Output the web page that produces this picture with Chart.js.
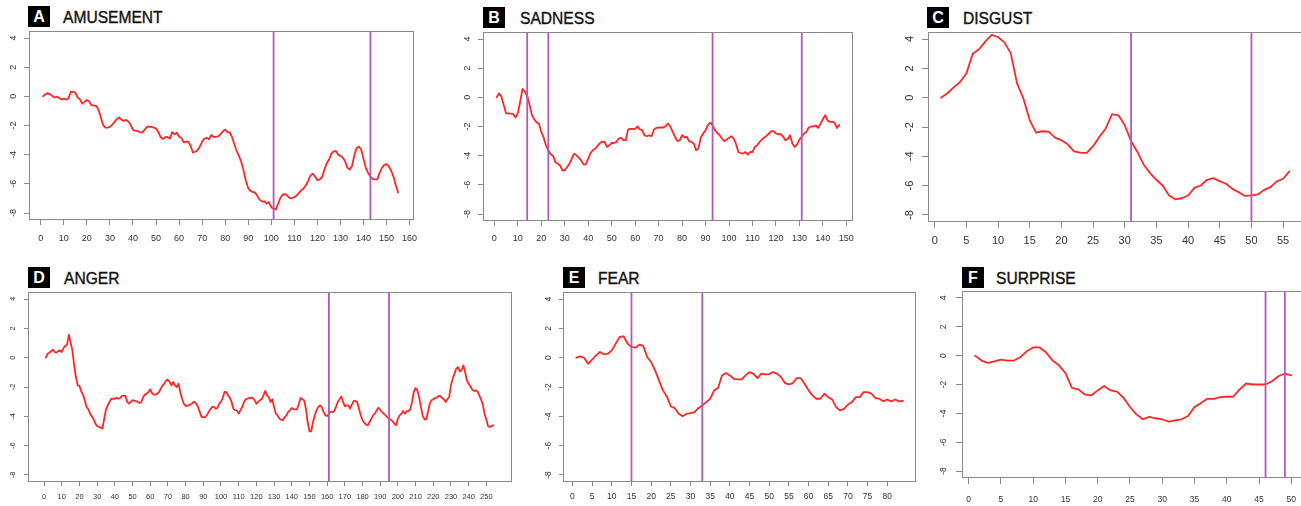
<!DOCTYPE html>
<html>
<head>
<meta charset="utf-8">
<script src="https://cdn.jsdelivr.net/npm/chart.js@4.4.1/dist/chart.umd.min.js"></script>
<style>
html, body { margin: 0; padding: 0; background: #fff; width: 1301px; height: 506px; overflow: hidden; position: relative; }
canvas { position: absolute; }
.badge { position: absolute; width: 22px; height: 21px; background: #000; color: #fff; font: bold 16px "Liberation Sans", Arial, sans-serif; line-height: 21px; text-align: center; }
.name { position: absolute; font: 15.6px "Liberation Sans", Arial, sans-serif; line-height: 21px; color: #111; white-space: nowrap; -webkit-text-stroke: 0.35px #111; }
</style>
</head>
<body>
<div class="badge" style="left:28px;top:6px">A</div><div class="name" style="left:63px;top:7px">AMUSEMENT</div>
<div class="badge" style="left:483px;top:7px">B</div><div class="name" style="left:520px;top:8px">SADNESS</div>
<div class="badge" style="left:927px;top:7px">C</div><div class="name" style="left:963px;top:8px">DISGUST</div>
<div class="badge" style="left:28px;top:267px">D</div><div class="name" style="left:64px;top:268px">ANGER</div>
<div class="badge" style="left:563px;top:267px">E</div><div class="name" style="left:598px;top:268px">FEAR</div>
<div class="badge" style="left:962px;top:267px">F</div><div class="name" style="left:996px;top:268px">SURPRISE</div>

<canvas id="chartA"></canvas>
<canvas id="chartB"></canvas>
<canvas id="chartC"></canvas>
<canvas id="chartD"></canvas>
<canvas id="chartE"></canvas>
<canvas id="chartF"></canvas>

<script>
// y axis is the same on every panel
const yTicks = [-8, -6, -4, -2, 0, 2, 4];
const Y_MIN = -8.48, Y_MAX = 4.48;

// A - amusement
const amusementTicks = [0, 10, 20, 30, 40, 50, 60, 70, 80, 90, 100, 110, 120, 130, 140, 150, 160];
const amusementMarks = [101, 143];
const amusementValues = [
  0.00, 0.12, 0.22, 0.15, 0.02, -0.08, -0.02, -0.12, -0.22, -0.16,
  -0.22, -0.15, 0.30, 0.32, 0.26, -0.08, -0.20, -0.50, -0.38, -0.25,
  -0.35, -0.62, -0.62, -0.65, -0.90, -1.40, -1.95, -2.15, -2.15, -2.10,
  -1.95, -1.75, -1.55, -1.45, -1.60, -1.68, -1.62, -1.72, -1.95, -2.30,
  -2.35, -2.38, -2.45, -2.47, -2.30, -2.10, -2.08, -2.10, -2.15, -2.20,
  -2.45, -2.80, -2.92, -2.80, -2.78, -2.90, -2.45, -2.60, -2.50, -2.75,
  -2.85, -3.15, -3.10, -3.10, -3.40, -3.85, -3.80, -3.70, -3.45, -3.10,
  -2.90, -2.85, -2.95, -2.65, -2.78, -2.78, -2.75, -2.60, -2.40, -2.28,
  -2.45, -2.48, -2.80, -3.30, -3.75, -4.10, -4.50, -5.10, -5.80, -6.30,
  -6.50, -6.55, -6.60, -6.85, -7.10, -7.22, -7.18, -7.35, -7.25, -7.60,
  -7.72, -7.75, -7.35, -6.95, -6.72, -6.70, -6.82, -6.98, -6.97, -6.92,
  -6.80, -6.62, -6.45, -6.32, -6.10, -5.80, -5.42, -5.30, -5.50, -5.75,
  -5.70, -5.55, -5.05, -4.60, -4.35, -3.95, -3.78, -3.75, -4.00, -4.08,
  -4.20, -4.45, -4.90, -5.02, -4.80, -4.05, -3.55, -3.45, -3.65, -4.30,
  -4.90, -5.25, -5.50, -5.68, -5.70, -5.70, -5.25, -4.90, -4.70, -4.65,
  -4.80, -5.10, -5.50, -6.10, -6.60
];

// B - sadness
const sadnessTicks = [0, 10, 20, 30, 40, 50, 60, 70, 80, 90, 100, 110, 120, 130, 140, 150];
const sadnessMarks = [14, 23, 93, 131];
const sadnessValues = [
  0.00, 0.28, 0.05, -0.53, -1.10, -1.10, -1.12, -1.15, -1.38, -1.10,
  -0.30, 0.57, 0.40, 0.10, -0.50, -1.22, -1.50, -1.72, -1.80, -2.37,
  -2.75, -3.30, -3.63, -3.90, -4.00, -4.44, -4.55, -4.67, -5.00, -5.00,
  -4.78, -4.55, -4.20, -3.86, -3.98, -4.14, -4.32, -4.60, -4.60, -4.20,
  -3.82, -3.63, -3.52, -3.33, -3.13, -3.03, -3.06, -3.40, -3.29, -3.13,
  -3.13, -3.06, -2.83, -2.78, -2.94, -2.94, -2.20, -2.16, -2.16, -2.16,
  -2.00, -2.20, -2.25, -2.60, -2.67, -2.60, -2.67, -2.20, -2.10, -2.07,
  -2.07, -2.07, -1.98, -1.80, -2.00, -2.37, -2.70, -3.00, -2.94, -2.60,
  -2.75, -2.70, -3.00, -3.06, -3.17, -3.63, -3.50, -2.75, -2.48, -2.25,
  -1.90, -1.74, -1.90, -2.25, -2.44, -2.60, -2.83, -3.00, -2.90, -2.78,
  -2.67, -2.83, -3.20, -3.75, -3.82, -3.86, -3.75, -3.93, -3.75, -3.75,
  -3.40, -3.29, -3.06, -2.90, -2.75, -2.64, -2.48, -2.32, -2.32, -2.48,
  -2.53, -2.53, -2.67, -2.94, -2.87, -2.60, -3.17, -3.40, -3.22, -2.90,
  -2.70, -2.48, -2.37, -2.07, -2.00, -2.00, -1.93, -2.10, -1.80, -1.50,
  -1.22, -1.60, -1.68, -1.68, -1.74, -2.10, -1.90
];

// C - disgust
const disgustTicks = [0, 5, 10, 15, 20, 25, 30, 35, 40, 45, 50, 55];
const disgustMarks = [31, 50];
const disgustValues = [
  0.00, 0.30, 0.70, 1.07, 1.65, 3.00, 3.30, 3.84, 4.28, 4.14,
  3.77, 3.04, 0.98, -0.05, -1.53, -2.38, -2.29, -2.31, -2.72, -2.90,
  -3.18, -3.66, -3.75, -3.77, -3.31, -2.67, -2.10, -1.12, -1.20, -1.87,
  -2.97, -3.70, -4.57, -5.14, -5.60, -5.99, -6.67, -6.93, -6.86, -6.67,
  -6.15, -5.99, -5.60, -5.49, -5.69, -5.87, -6.22, -6.45, -6.70, -6.67,
  -6.60, -6.29, -6.10, -5.71, -5.53, -5.03
];

// D - anger
const angerTicks = [0, 10, 20, 30, 40, 50, 60, 70, 80, 90, 100, 110, 120, 130, 140, 150, 160, 170, 180, 190, 200, 210, 220, 230, 240, 250];
const angerMarks = [161, 195];
const angerValues = [
  0.00, 0.27, 0.35, 0.43, 0.55, 0.39, 0.34, 0.45, 0.50, 0.39,
  0.66, 0.80, 0.89, 1.57, 1.02, 0.50, -0.52, -1.32, -1.89, -1.93,
  -2.30, -2.52, -2.90, -3.36, -3.52, -3.82, -4.00, -4.20, -4.50, -4.66,
  -4.73, -4.77, -4.84, -4.16, -3.52, -3.25, -3.02, -2.80, -2.80, -2.80,
  -2.73, -2.80, -2.75, -2.61, -2.61, -2.61, -3.02, -3.14, -3.02, -2.90,
  -2.95, -2.95, -3.02, -3.09, -3.02, -2.68, -2.52, -2.45, -2.34, -2.16,
  -2.41, -2.52, -2.52, -2.45, -2.34, -2.11, -1.89, -1.77, -1.55, -1.50,
  -1.66, -1.89, -1.66, -1.89, -2.00, -1.77, -2.34, -2.80, -3.14, -3.30,
  -3.25, -3.25, -3.18, -3.07, -3.02, -3.14, -3.36, -3.70, -4.05, -4.05,
  -4.05, -3.93, -3.70, -3.52, -3.36, -3.36, -3.48, -3.43, -3.14, -3.02,
  -2.75, -2.34, -2.34, -2.57, -2.73, -3.02, -3.48, -3.59, -3.59, -3.82,
  -3.59, -3.36, -3.02, -2.84, -2.80, -2.75, -2.73, -2.75, -2.90, -3.14,
  -3.02, -2.90, -2.84, -2.57, -2.27, -2.57, -2.68, -3.02, -2.84, -3.36,
  -3.82, -3.93, -4.16, -4.23, -4.27, -4.05, -3.93, -3.70, -3.59, -3.43,
  -3.52, -3.52, -3.52, -3.14, -2.75, -2.84, -2.90, -3.48, -4.39, -5.02,
  -5.02, -4.39, -3.93, -3.59, -3.36, -3.25, -3.36, -3.70, -3.93, -3.98,
  -3.82, -3.70, -3.70, -3.64, -3.36, -3.02, -2.84, -2.64, -3.02, -3.30,
  -3.25, -3.25, -3.48, -3.20, -2.95, -2.95, -3.02, -3.48, -3.93, -4.27,
  -4.43, -4.57, -4.61, -4.39, -4.16, -3.93, -3.82, -3.59, -3.41, -3.55,
  -3.70, -3.82, -3.93, -4.05, -4.16, -4.23, -4.34, -4.50, -4.61, -4.16,
  -3.93, -3.82, -3.64, -3.82, -3.64, -3.64, -3.52, -3.02, -2.34, -2.07,
  -2.23, -2.68, -3.36, -3.93, -4.20, -4.20, -3.70, -3.14, -2.90, -2.84,
  -2.75, -2.73, -2.61, -2.61, -2.75, -2.84, -3.02, -2.84, -2.68, -1.89,
  -1.43, -1.09, -0.75, -0.64, -0.93, -0.86, -0.52, -0.98, -1.55, -1.77,
  -1.95, -2.18, -2.27, -2.23, -2.30, -2.57, -2.84, -3.20, -3.82, -4.23,
  -4.68, -4.73, -4.66, -4.61
];

// E - fear
const fearTicks = [0, 5, 10, 15, 20, 25, 30, 35, 40, 45, 50, 55, 60, 65, 70, 75, 80];
const fearMarks = [15, 33];
const fearValues = [
  0.00, 0.09, -0.02, -0.41, -0.14, 0.16, 0.39, 0.23, 0.27, 0.50,
  0.96, 1.41, 1.46, 0.96, 0.73, 0.68, 0.89, 0.80, 0.05, -0.30,
  -0.87, -1.55, -2.23, -2.64, -3.33, -3.44, -3.83, -3.99, -3.83, -3.78,
  -3.71, -3.44, -3.26, -3.03, -2.80, -2.23, -2.07, -1.21, -1.05, -1.21,
  -1.44, -1.48, -1.48, -1.21, -0.98, -1.09, -1.39, -1.09, -1.14, -1.12,
  -0.98, -1.09, -1.32, -1.73, -1.82, -1.73, -1.39, -1.39, -1.78, -2.23,
  -2.57, -2.80, -2.80, -2.46, -2.69, -2.85, -3.37, -3.60, -3.49, -3.21,
  -3.03, -2.69, -2.69, -2.35, -2.35, -2.46, -2.76, -2.80, -2.98, -2.85,
  -2.98, -2.85, -2.98, -2.94
];

// F - surprise
const surpriseTicks = [0, 5, 10, 15, 20, 25, 30, 35, 40, 45, 50];
const surpriseMarks = [46, 49];
const surpriseValues = [
  0.00, -0.34, -0.50, -0.39, -0.28, -0.34, -0.34, -0.11, 0.30, 0.57,
  0.57, 0.23, -0.34, -0.67, -1.20, -2.23, -2.34, -2.69, -2.76, -2.41,
  -2.11, -2.41, -2.50, -2.92, -3.56, -4.07, -4.41, -4.25, -4.34, -4.41,
  -4.57, -4.48, -4.41, -4.18, -3.56, -3.29, -2.99, -2.99, -2.87, -2.85,
  -2.85, -2.34, -1.93, -2.00, -2.00, -2.00, -1.77, -1.43, -1.24, -1.36
];

const RED = '#ff2626';
const PURPLE = '#b05aba';
const AXIS = '#8a8a8a';
const LABEL = '#333';
const FONT = '"Liberation Sans", Arial, sans-serif';
const AXW = 34, AXH = 34, PADT = 18, PADR = 20;

// box round the plot region, like R's box()
const boxPlugin = {
  id: 'rbox',
  afterDraw(chart) {
    const { ctx, chartArea: a } = chart;
    ctx.save();
    ctx.strokeStyle = AXIS;
    ctx.lineWidth = 1;
    ctx.strokeRect(Math.round(a.left) + 0.5, Math.round(a.top) + 0.5,
      Math.round(a.right - a.left) - 1, Math.round(a.bottom - a.top) - 1);
    ctx.restore();
  }
};

function drawPanel(p) {
  const el = document.getElementById(p.id);
  const [l, t, r, b] = p.box;
  el.width = (r - l) + AXW + PADR;
  el.height = (b - t) + PADT + AXH;
  el.style.left = (l - AXW) + 'px';
  el.style.top = (t - PADT) + 'px';

  const datasets = [{
    data: p.values.map((v, i) => ({ x: i + 1, y: v })),
    borderColor: RED,
    borderWidth: 1.8,
    pointRadius: 0,
    order: 1
  }];
  p.marks.forEach(m => datasets.push({
    data: [{ x: m, y: Y_MIN }, { x: m, y: Y_MAX }],
    borderColor: PURPLE,
    borderWidth: 1.8,
    pointRadius: 0,
    order: 0
  }));

  new Chart(el, {
    type: 'line',
    data: { datasets },
    options: {
      responsive: false,
      animation: false,
      devicePixelRatio: 1,
      layout: { padding: { top: PADT, right: PADR, left: 0, bottom: 0 } },
      plugins: { legend: { display: false }, tooltip: { enabled: false } },
      elements: { line: { tension: 0, borderJoinStyle: 'round', borderCapStyle: 'round' } },
      scales: {
        x: {
          type: 'linear', min: p.xMin, max: p.xMax,
          afterBuildTicks: s => { s.ticks = p.ticks.map(v => ({ value: v })); },
          afterFit: s => { s.height = AXH; },
          border: { display: false },
          grid: { drawOnChartArea: false, drawTicks: true, tickLength: p.tl, color: AXIS },
          ticks: { autoSkip: false, maxRotation: 0, color: LABEL, padding: p.xpad, font: { family: FONT, size: p.fs } }
        },
        y: {
          type: 'linear', min: Y_MIN, max: Y_MAX,
          afterBuildTicks: s => { s.ticks = yTicks.map(v => ({ value: v })); },
          afterFit: s => { s.width = AXW; },
          border: { display: false },
          grid: { drawOnChartArea: false, drawTicks: true, tickLength: p.tl, color: AXIS },
          ticks: { autoSkip: false, minRotation: 90, maxRotation: 90, crossAlign: 'center', color: LABEL, padding: p.ypad, font: { family: FONT, size: p.fs } }
        }
      }
    },
    plugins: [boxPlugin]
  });
}

const panels = [
  { id: 'chartA', values: amusementValues, marks: amusementMarks, ticks: amusementTicks, box: [29, 31, 414, 220], xMin: -5.1, xMax: 161.9, fs: 9, tl: 5, xpad: 8, ypad: 6.5 },
  { id: 'chartB', values: sadnessValues, marks: sadnessMarks, ticks: sadnessTicks, box: [483, 32, 853, 221], xMin: -4.84, xMax: 152.84, fs: 9, tl: 5, xpad: 7, ypad: 6 },
  { id: 'chartC', values: disgustValues, marks: disgustMarks, ticks: disgustTicks, box: [928, 32, 1304, 222], xMin: -1.06, xMax: 58.3, fs: 11, tl: 6, xpad: 6, ypad: 7.4 },
  { id: 'chartD', values: angerValues, marks: angerMarks, ticks: angerTicks, box: [28, 292, 512, 482], xMin: -9.1, xMax: 264.5, fs: 7.5, tl: 4, xpad: 6.5, ypad: 7.7 },
  { id: 'chartE', values: fearValues, marks: fearMarks, ticks: fearTicks, box: [563, 292, 916, 482], xMin: -2.4, xMax: 87.3, fs: 8.5, tl: 4, xpad: 6, ypad: 6.6 },
  { id: 'chartF', values: surpriseValues, marks: surpriseMarks, ticks: surpriseTicks, box: [962, 291, 1304, 478], xMin: -1.02, xMax: 51.96, fs: 8.5, tl: 6, xpad: 10.5, ypad: 9 }
];

panels.forEach(drawPanel);
</script>
</body>
</html>
